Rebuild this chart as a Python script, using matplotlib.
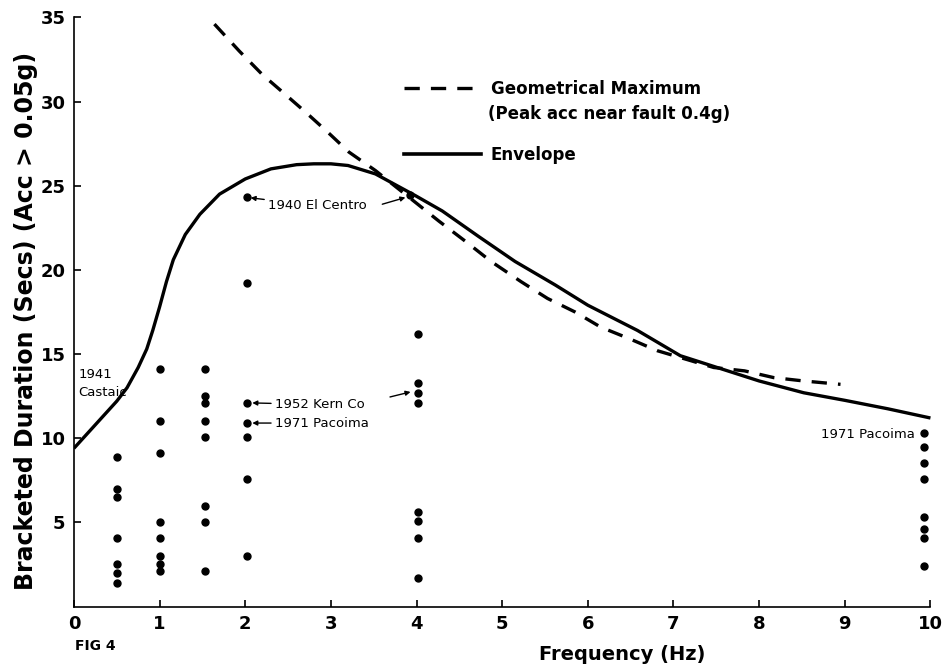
import matplotlib
matplotlib.use("Agg")
import matplotlib.pyplot as plt
from matplotlib.lines import Line2D

# ----- data -----
env_freq = [0.0, 0.25, 0.5, 0.62, 0.75, 0.85, 0.92, 1.0, 1.08, 1.16, 1.3, 1.47, 1.7,
            2.0, 2.3, 2.6, 2.8, 3.0, 3.2, 3.52, 3.99, 4.3, 4.72, 5.15, 5.62, 6.0,
            6.58, 7.08, 7.51, 8.0, 8.52, 9.0, 9.5, 10.0]
env_dur = [9.4, 10.8, 12.2, 13.0, 14.2, 15.3, 16.4, 17.8, 19.3, 20.6, 22.1, 23.3, 24.5,
           25.4, 26.0, 26.25, 26.3, 26.3, 26.2, 25.7, 24.4, 23.5, 22.0, 20.5, 19.1, 17.9,
           16.4, 14.9, 14.2, 13.4, 12.7, 12.25, 11.75, 11.2]

geo_freq = [1.64, 1.93, 2.2, 2.45, 2.72, 2.98, 3.21, 3.52, 3.94, 4.26, 4.57, 4.87,
            5.22, 5.53, 5.85, 6.15, 6.49, 6.81, 7.14, 7.47, 7.83, 8.17, 8.52, 8.95]
geo_dur = [34.6, 33.0, 31.6, 30.5, 29.3, 28.1, 27.0, 25.9, 24.2, 22.9, 21.7, 20.5,
           19.3, 18.3, 17.5, 16.6, 15.9, 15.2, 14.7, 14.2, 14.0, 13.6, 13.4, 13.2]

# recorded durations at each frequency
rec_05 = [8.9, 7.0, 6.5, 4.1, 2.5, 2.0, 1.4]
rec_10 = [14.1, 11.0, 9.1, 5.0, 4.1, 3.0, 2.5, 2.1]
rec_15 = [14.1, 12.5, 12.1, 11.0, 10.1, 6.0, 5.0, 2.1]
rec_20 = [24.3, 19.2, 12.1, 10.9, 10.1, 7.6, 3.0]
rec_40 = [16.2, 13.3, 12.7, 12.1, 5.6, 5.1, 4.1, 1.7]
rec_100 = [10.3, 9.5, 8.5, 7.6, 5.3, 4.6, 4.1, 2.4]
rec_freq = [0.5, 1.0, 1.53, 2.02, 4.02, 9.92]
# El Centro point sitting on the envelope near 4 Hz
centro_freq = [3.92]
centro_dur = [24.45]

x_ticks = list(range(0, 11))
y_ticks = [5, 10, 15, 20, 25, 30, 35]

plt.rcParams["font.family"] = ["DejaVu Sans"]
plt.rcParams["lines.scale_dashes"] = False

fig = plt.figure(figsize=(9.48, 6.68), dpi=100)
ax = fig.add_axes([0.078, 0.092, 0.908, 0.882])

ax.plot(env_freq, env_dur, color="black", lw=2.4, solid_capstyle="butt")
ax.plot(geo_freq, geo_dur, color="black", lw=2.4, dashes=(11, 8))

for f, vals in zip(rec_freq, [rec_05, rec_10, rec_15, rec_20, rec_40, rec_100]):
    ax.plot([f] * len(vals), vals, "o", color="black", ms=5)
ax.plot(centro_freq, centro_dur, "o", color="black", ms=5)

ax.set_xlim(0, 10.05)
ax.set_ylim(0, 35)
ax.set_xticks(x_ticks)
ax.set_yticks(y_ticks)
ax.tick_params(direction="in", length=5, width=1.2, labelsize=13, pad=6)
for lab in ax.get_xticklabels() + ax.get_yticklabels():
    lab.set_fontweight("bold")
ax.spines["top"].set_visible(False)
ax.spines["right"].set_visible(False)
for s in ("left", "bottom"):
    ax.spines[s].set_linewidth(1.2)
    ax.spines[s].set_bounds(0, 10 if s == "bottom" else 35)

ax.set_ylabel("Bracketed Duration (Secs) (Acc > 0.05g)", fontsize=17,
              fontweight="bold")
ax.yaxis.set_label_coords(-0.042, 0.484)
ax.set_xlabel("Frequency (Hz)", fontsize=14, fontweight="bold")
ax.xaxis.set_label_coords(0.637, -0.066)
fig.text(0.079, 0.027, "FIG 4", fontsize=10, fontweight="bold")

# legend
handles = [Line2D([], [], color="black", lw=2.4, dashes=(11, 8)),
           Line2D([], [], color="black", lw=2.6)]
leg = ax.legend(handles, ["Geometrical Maximum", "Envelope"],
                loc="upper left", bbox_to_anchor=(0.374, 0.908), frameon=False,
                prop={"size": 12, "weight": "bold"}, handlelength=4.6,
                handletextpad=0.6, labelspacing=2.9, borderpad=0)
ax.text(0.481, 0.836, "(Peak acc near fault 0.4g)", transform=ax.transAxes,
        va="center", ha="left", fontsize=12, fontweight="bold")

# annotations
small = dict(fontsize=9.5, color="black")
ax.text(0.05, 14.2, "1941\nCastaic", va="top", ha="left", linespacing=1.5, **small)
ax.annotate("1940 El Centro", xy=(2.03, 24.3), xytext=(2.27, 23.8), va="center",
            arrowprops=dict(arrowstyle="-|>", color="black", lw=1,
                            shrinkA=1, shrinkB=2, mutation_scale=7), **small)
ax.annotate("", xy=(3.87, 24.3), xytext=(3.6, 23.9),
            arrowprops=dict(arrowstyle="-|>", color="black", lw=1,
                            shrinkA=0, shrinkB=0, mutation_scale=7))
ax.annotate("1952 Kern Co", xy=(2.05, 12.1), xytext=(2.35, 12.0), va="center",
            arrowprops=dict(arrowstyle="-|>", color="black", lw=1,
                            shrinkA=1, shrinkB=2, mutation_scale=7), **small)
ax.annotate("1971 Pacoima", xy=(2.05, 10.9), xytext=(2.35, 10.9), va="center",
            arrowprops=dict(arrowstyle="-|>", color="black", lw=1,
                            shrinkA=1, shrinkB=2, mutation_scale=7), **small)
ax.annotate("", xy=(3.93, 12.75), xytext=(3.69, 12.45),
            arrowprops=dict(arrowstyle="-|>", color="black", lw=1,
                            shrinkA=0, shrinkB=0, mutation_scale=7))
ax.text(9.82, 10.2, "1971 Pacoima", ha="right", va="center", **small)

fig.savefig("out.png", dpi=100)
